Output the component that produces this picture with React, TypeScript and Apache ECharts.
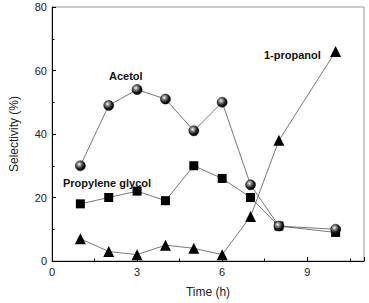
import React, { useEffect, useRef } from "react";
import * as echarts from "echarts";

const timeH = [1, 2, 3, 4, 5, 6, 7, 8, 10];
const acetol = [30, 49, 54, 51, 41, 50, 24, 11, 10];
const propyleneGlycol = [18, 20, 22, 19, 30, 26, 20, 11, 9];
const propanol = [7, 3, 2, 5, 4, 2, 14, 38, 66];

const pairs = (ys: number[]) => timeH.map((x, i) => [x, ys[i]]);

const sphere = {
  type: "radial",
  x: 0.38,
  y: 0.35,
  r: 0.65,
  colorStops: [
    { offset: 0, color: "#ffffff" },
    { offset: 0.25, color: "#9a9a9a" },
    { offset: 0.7, color: "#1a1a1a" },
    { offset: 1, color: "#000000" },
  ],
};

export default function App() {
  const ref = useRef<HTMLDivElement>(null);
  useEffect(() => {
    if (!ref.current) return;
    const chart = echarts.init(ref.current, null, { renderer: "svg" });
    const lineStyle = { color: "#555", width: 0.8 };
    const axisCommon = {
      axisLine: { show: true, lineStyle: { color: "#000", width: 1 } },
      axisTick: { show: true, inside: true, length: 4, lineStyle: { color: "#000" } },
      minorTick: { show: true, splitNumber: 2, length: 2.5, lineStyle: { color: "#000" } },
      splitLine: { show: false },
      axisLabel: { color: "#222", fontFamily: "Liberation Sans, Arial", fontSize: 11 },
    };
    chart.setOption({
      animation: false,
      grid: { left: 39, right: 5, top: 7, bottom: 39, show: true, borderColor: "#999", borderWidth: 1 },
      xAxis: {
        type: "value",
        min: 0,
        max: 11,
        interval: 3,
        ...axisCommon,
        axisLabel: { ...axisCommon.axisLabel, showMaxLabel: false, margin: 5 },
        name: "Time (h)",
        nameLocation: "middle",
        nameGap: 25,
        nameTextStyle: { color: "#222", fontFamily: "Liberation Sans, Arial", fontSize: 12 },
      },
      yAxis: {
        type: "value",
        min: 0,
        max: 80,
        interval: 20,
        ...axisCommon,
        axisLabel: { ...axisCommon.axisLabel, margin: 5 },
        name: "Selectivity (%)",
        nameLocation: "middle",
        nameGap: 32,
        nameTextStyle: { color: "#222", fontFamily: "Liberation Sans, Arial", fontSize: 12 },
      },
      series: [
        {
          name: "Acetol",
          type: "line",
          data: pairs(acetol),
          symbol: "circle",
          symbolSize: 10,
          lineStyle,
          itemStyle: { color: sphere, borderColor: "#000", borderWidth: 0.5 },
          z: 3,
        },
        {
          name: "Propylene glycol",
          type: "line",
          data: pairs(propyleneGlycol),
          symbol: "rect",
          symbolSize: 9,
          lineStyle,
          itemStyle: { color: "#000" },
          z: 2,
        },
        {
          name: "1-propanol",
          type: "line",
          data: pairs(propanol),
          symbol: "triangle",
          symbolSize: 11,
          lineStyle,
          itemStyle: { color: "#000" },
          z: 2,
        },
      ],
      graphic: [
        {
          type: "text",
          left: 109,
          top: 70,
          style: { text: "Acetol", font: "bold 11px Liberation Sans, Arial", fill: "#111" },
        },
        {
          type: "text",
          left: 63,
          top: 177,
          style: { text: "Propylene glycol", font: "bold 11px Liberation Sans, Arial", fill: "#111" },
        },
        {
          type: "text",
          left: 264,
          top: 49,
          style: { text: "1-propanol", font: "bold 11px Liberation Sans, Arial", fill: "#111" },
        },
      ],
    });
    return () => chart.dispose();
  }, []);
  return <div ref={ref} style={{ width: 369, height: 303, position: "absolute", left: 0, top: 0 }} />;
}
